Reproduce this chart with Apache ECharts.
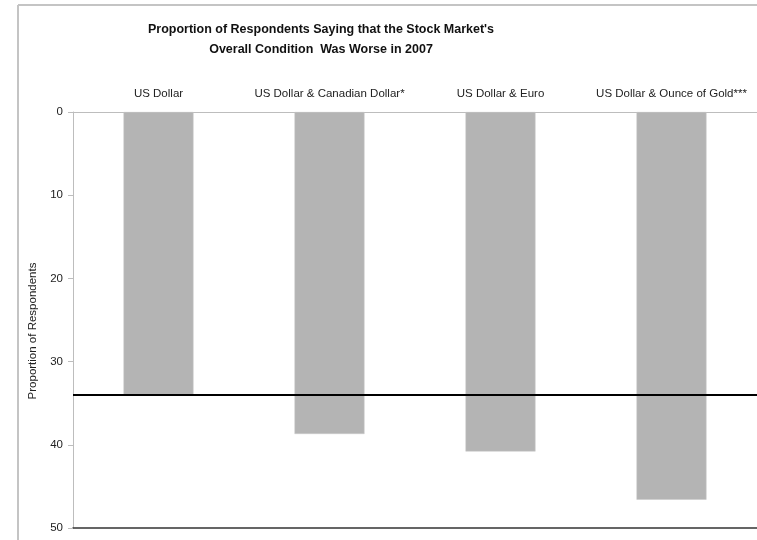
<!DOCTYPE html>
<html>
<head>
<meta charset="utf-8">
<script src="https://cdn.jsdelivr.net/npm/echarts@6/dist/echarts.min.js"></script>
<style>
html,body{margin:0;padding:0;background:#fff;}
#c{width:757px;height:540px;}
</style>
</head>
<body>
<div id="c"></div>
<script>
const titleText = "Proportion of Respondents Saying that the Stock Market's\nOverall Condition  Was Worse in 2007";
const categories = ["US Dollar", "US Dollar & Canadian Dollar*", "US Dollar & Euro", "US Dollar & Ounce of Gold***"];
const values = [34.0, 38.7, 40.8, 46.6];
const referenceValue = 34.0;
const yMin = 0, yMax = 50, yStep = 10;
const yAxisName = "Proportion of Respondents";

const chart = echarts.init(document.getElementById('c'), null, {renderer: 'canvas'});
const option = {
  animation: false,
  backgroundColor: '#fff',
  title: {
    text: titleText,
    left: 316, top: 15,
    textAlign: 'center',
    textStyle: {fontFamily: 'Liberation Sans', fontSize: 12.5, fontWeight: 'bold', color: '#111', lineHeight: 20}
  },
  graphic: [
    {type: 'line', shape: {x1: 18, y1: 5, x2: 18, y2: 540}, style: {stroke: '#c4c4c4', lineWidth: 2}, silent: true},
    {type: 'line', shape: {x1: 18, y1: 5, x2: 757, y2: 5}, style: {stroke: '#c4c4c4', lineWidth: 2}, silent: true}
  ],
  grid: {left: 73, top: 112, width: 686, height: 416, containLabel: false},
  xAxis: [{
    type: 'category', data: categories, position: 'top',
    axisLine: {show: true, lineStyle: {color: '#bdbdbd', width: 1}},
    axisTick: {show: false},
    axisLabel: {margin: 12, fontFamily: 'Liberation Sans', fontSize: 11.5, color: '#222', interval: 0}
  }, {
    type: 'category', data: categories, position: 'bottom',
    axisLine: {show: true, lineStyle: {color: '#333', width: 1.5}},
    axisTick: {show: false}, axisLabel: {show: false}
  }],
  yAxis: {
    type: 'value', inverse: true, min: yMin, max: yMax, interval: yStep,
    name: yAxisName, nameLocation: 'middle', nameRotate: 90, nameGap: 31,
    nameTextStyle: {fontFamily: 'Liberation Sans', fontSize: 11.5, color: '#222', padding: [0, 22, 0, 0]},
    axisLine: {show: true, lineStyle: {color: '#bdbdbd', width: 1}},
    axisTick: {show: true, length: 5, lineStyle: {color: '#bdbdbd'}},
    axisLabel: {margin: 10, fontFamily: 'Liberation Sans', fontSize: 11.5, color: '#222'},
    splitLine: {show: false}
  },
  series: [{
    type: 'bar', data: values, barWidth: 70,
    itemStyle: {color: '#b4b4b4', borderColor: '#c8c8c8', borderWidth: 0.5},
    markLine: {
      silent: true, symbol: ['none', 'none'], label: {show: false},
      lineStyle: {color: '#000', width: 2, type: 'solid'},
      data: [{yAxis: referenceValue}]
    }
  }]
};
chart.setOption(option);
</script>
</body>
</html>
